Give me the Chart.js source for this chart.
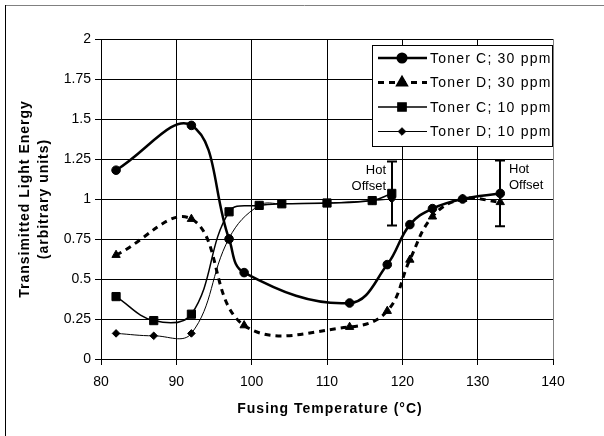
<!DOCTYPE html>
<html>
<head>
<meta charset="utf-8">
<script src="https://cdn.jsdelivr.net/npm/chart.js@4"></script>
<style>
  html, body { margin: 0; padding: 0; background: #fff; }
  #wrap { width: 604px; height: 436px; }
</style>
</head>
<body>
<div id="wrap"><canvas id="chart" width="604" height="436"></canvas></div>
<script>
// values
var seriesNames = ['Toner C; 30 ppm', 'Toner D; 30 ppm', 'Toner C; 10 ppm', 'Toner D; 10 ppm'];

var tonerC30Temp = [82, 92, 97, 99, 113, 118, 121, 124, 128, 133];
var tonerC30Energy = [1.18, 1.46, 0.75, 0.54, 0.35, 0.59, 0.84, 0.94, 1.0, 1.035];

var tonerD30Temp = [82, 92, 99, 113, 118, 121, 124, 128, 133];
var tonerD30Energy = [0.65, 0.875, 0.21, 0.2, 0.3, 0.62, 0.89, 1.0, 0.98];

var tonerC10Temp = [82, 87, 92, 97, 101, 104, 110, 116, 118.6];
var tonerC10Energy = [0.39, 0.24, 0.28, 0.92, 0.96, 0.97, 0.975, 0.99, 1.035];

var tonerD10Temp = [82, 87, 92, 97, 101, 104, 110, 116, 118.6];
var tonerD10Energy = [0.16, 0.145, 0.16, 0.755, 0.96, 0.97, 0.975, 0.99, 1.0];

// hot offset markers (error bars)
var hotOffsetTemp = [118.6, 133];
var hotOffsetEnergy = [1.035, 1.035];
var hotOffsetRange = [0.2, 0.205];
var hotOffsetText = ['Hot', 'Offset'];

var xTickValues = [80, 90, 100, 110, 120, 130, 140];
var yTickValues = [0, 0.25, 0.5, 0.75, 1, 1.25, 1.5, 1.75, 2];
var yTickLabels = ['0', '0.25', '0.5', '0.75', '1', '1.25', '1.5', '1.75', '2'];

var xTitle = 'Fusing Temperature (°C)';
var yTitle = ['Transimitted Light Energy', '(arbitrary units)'];

var FONT = '"Liberation Sans", Arial, sans-serif';

function toPoints(xs, ys) {
  return xs.map(function (x, i) {
    return { x: x, y: ys[i] };
  });
}

/**
 * Draws frame, axis titles, legend box, error bars and the notes
 */
var overlayPlugin = {
  id: 'overlay',
  afterDatasetsDraw: function (chart) {
    var ctx = chart.ctx;
    var xs = chart.scales.x;
    var ys = chart.scales.y;
    ctx.save();
    ctx.strokeStyle = '#000';
    ctx.lineWidth = 2;
    hotOffsetTemp.forEach(function (t, i) {
      var px = Math.round(xs.getPixelForValue(t));
      var top = ys.getPixelForValue(hotOffsetEnergy[i] + hotOffsetRange[i]);
      var bot = ys.getPixelForValue(hotOffsetEnergy[i] - hotOffsetRange[i]);
      ctx.beginPath();
      ctx.moveTo(px, top);
      ctx.lineTo(px, bot);
      ctx.moveTo(px - 5, top);
      ctx.lineTo(px + 5, top);
      ctx.moveTo(px - 5, bot);
      ctx.lineTo(px + 5, bot);
      ctx.stroke();

      ctx.fillStyle = '#000';
      ctx.font = '13px ' + FONT;
      ctx.textBaseline = 'middle';
      var tx;
      if (i === 0) {
        ctx.textAlign = 'right';
        tx = px - 6;
      } else {
        ctx.textAlign = 'left';
        tx = px + 9;
      }
      ctx.fillText(hotOffsetText[0], tx, top + 9);
      ctx.fillText(hotOffsetText[1], tx, top + 25);
    });
    ctx.restore();
  },
  afterDraw: function (chart) {
    var ctx = chart.ctx;
    var area = chart.chartArea;
    ctx.save();

    // outer frame (cut off on the right and bottom)
    ctx.lineWidth = 1;
    ctx.strokeStyle = '#808080';
    ctx.beginPath();
    ctx.moveTo(5, 5.5);
    ctx.lineTo(chart.width, 5.5);
    ctx.stroke();
    ctx.strokeStyle = '#000';
    ctx.beginPath();
    ctx.moveTo(5.5, 5);
    ctx.lineTo(5.5, chart.height);
    ctx.stroke();

    // axis titles
    ctx.fillStyle = '#000';
    ctx.letterSpacing = '1px';
    ctx.font = 'bold 14px ' + FONT;
    ctx.textAlign = 'center';
    ctx.textBaseline = 'middle';
    ctx.fillText(xTitle, (area.left + area.right) / 2 + 3, 409);

    ctx.save();
    ctx.translate(25, (area.top + area.bottom) / 2);
    ctx.rotate(-Math.PI / 2);
    ctx.fillText(yTitle[0], 0, 0);
    ctx.fillText(yTitle[1], 0, 19);
    ctx.restore();

    // legend box
    var boxL = 372.5, boxT = 45.5, boxR = area.right - 0.5, boxB = 146.5;
    ctx.fillStyle = '#fff';
    ctx.fillRect(boxL, boxT, boxR - boxL, boxB - boxT);
    ctx.strokeStyle = '#000';
    ctx.lineWidth = 1;
    ctx.strokeRect(boxL, boxT, boxR - boxL, boxB - boxT);

    ctx.font = '14px ' + FONT;
    ctx.letterSpacing = '1.2px';
    ctx.textAlign = 'left';
    chart.data.datasets.forEach(function (ds, i) {
      var y = 58 + i * 24.5;
      ctx.save();
      ctx.strokeStyle = '#000';
      ctx.lineWidth = ds.borderWidth;
      ctx.setLineDash(ds.borderDash || []);
      ctx.beginPath();
      ctx.moveTo(378, y);
      ctx.lineTo(427, y);
      ctx.stroke();
      ctx.setLineDash([]);
      ctx.fillStyle = '#000';
      Chart.helpers.drawPoint(ctx, {
        pointStyle: ds.pointStyle,
        radius: ds.pointRadius,
        borderWidth: 1,
        rotation: 0
      }, 402, y);
      ctx.restore();
      ctx.fillStyle = '#000';
      ctx.fillText(ds.label, 430, y + 1);
    });

    ctx.restore();
  }
};

function lineSet(label, xs, ys, style) {
  return Object.assign({
    label: label,
    data: toPoints(xs, ys),
    borderColor: '#000',
    backgroundColor: '#000',
    pointBackgroundColor: '#000',
    pointBorderColor: '#000',
    pointBorderWidth: 1,
    pointHoverRadius: 0,
    fill: false,
    tension: 0.4
  }, style);
}

var canvas = document.getElementById('chart');
var chart = new Chart(canvas.getContext('2d'), {
  type: 'line',
  data: {
    datasets: [
      lineSet(seriesNames[0], tonerC30Temp, tonerC30Energy, {
        borderWidth: 2.5, pointStyle: 'circle', pointRadius: 4.3
      }),
      lineSet(seriesNames[1], tonerD30Temp, tonerD30Energy, {
        borderWidth: 3, borderDash: [6, 5], pointStyle: 'triangle', pointRadius: 4.8
      }),
      lineSet(seriesNames[2], tonerC10Temp, tonerC10Energy, {
        borderWidth: 1.5, pointStyle: 'rect', pointRadius: 5.8
      }),
      lineSet(seriesNames[3], tonerD10Temp, tonerD10Energy, {
        borderWidth: 1, pointStyle: 'rectRot', pointRadius: 3.8
      })
    ]
  },
  options: {
    responsive: false,
    animation: false,
    events: [],
    layout: { padding: { left: 0, top: 39, right: 51, bottom: 0 } },
    plugins: {
      legend: { display: false },
      tooltip: { enabled: false }
    },
    scales: {
      x: {
        type: 'linear',
        min: 80,
        max: 140,
        afterBuildTicks: function (scale) {
          scale.ticks = xTickValues.map(function (v) { return { value: v }; });
        },
        afterFit: function (scale) { scale.height = 77; },
        grid: {
          color: function (c) { return c.tick && c.tick.value === 140 ? '#808080' : '#000'; },
          tickColor: '#000',
          tickLength: 6
        },
        border: { color: '#000' },
        ticks: {
          color: '#000',
          padding: 9,
          maxRotation: 0,
          font: { family: FONT, size: 14 }
        }
      },
      y: {
        min: 0,
        max: 2,
        afterBuildTicks: function (scale) {
          scale.ticks = yTickValues.map(function (v) { return { value: v }; });
        },
        afterFit: function (scale) { scale.width = 101; },
        grid: {
          color: '#000',
          tickColor: '#000',
          tickLength: 6
        },
        border: { color: '#000' },
        ticks: {
          color: '#000',
          padding: 4,
          font: { family: FONT, size: 14 },
          callback: function (value) {
            var i = yTickValues.indexOf(value);
            return i >= 0 ? yTickLabels[i] : '';
          }
        }
      }
    }
  },
  plugins: [overlayPlugin]
});
</script>
</body>
</html>
